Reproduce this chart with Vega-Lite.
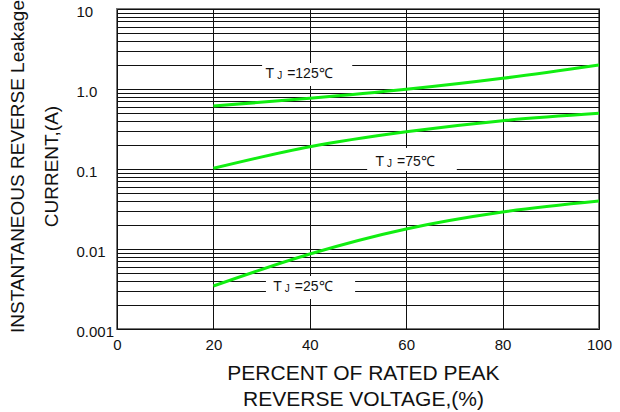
{
  "$schema": "https://vega.github.io/schema/vega-lite/v6.json",
  "width": 482,
  "height": 320,
  "autosize": {"type": "none"},
  "padding": {"left": 117, "top": 9, "right": 21, "bottom": 83},
  "background": "white",
  "config": {
    "font": "Liberation Sans",
    "view": {"stroke": "#777", "strokeWidth": 2}
  },
  "datasets": {
    "curves": [
      {"t": "125", "x": 20, "y": 0.613},
      {"t": "125", "x": 40, "y": 0.764},
      {"t": "125", "x": 60, "y": 0.99},
      {"t": "125", "x": 80, "y": 1.36},
      {"t": "125", "x": 100, "y": 2.0},
      {"t": "75", "x": 20, "y": 0.102},
      {"t": "75", "x": 40, "y": 0.19},
      {"t": "75", "x": 60, "y": 0.292},
      {"t": "75", "x": 80, "y": 0.402},
      {"t": "75", "x": 100, "y": 0.497},
      {"t": "25", "x": 20, "y": 0.00345},
      {"t": "25", "x": 40, "y": 0.00866},
      {"t": "25", "x": 60, "y": 0.0178},
      {"t": "25", "x": 80, "y": 0.029},
      {"t": "25", "x": 100, "y": 0.0398}
    ],
    "boxes": [
      {"x": 30.1, "x2v": 48.8, "y": 2.11, "y2v": 1.09},
      {"x": 51.9, "x2v": 70.5, "y": 0.183, "y2v": 0.0944},
      {"x": 30.9, "x2v": 49.4, "y": 0.0046, "y2v": 0.00237}
    ],
    "labels": [
      {"x": 35.3, "y": 1.54, "txt": "=125℃"},
      {"x": 58.1, "y": 0.1223, "txt": "=75℃"},
      {"x": 36.9, "y": 0.00335, "txt": "=25℃"}
    ]
  },
  "encoding": {
    "x": {
      "field": "x",
      "type": "quantitative",
      "scale": {"domain": [0, 100], "nice": false, "zero": false},
      "axis": {
        "values": [0, 20, 40, 60, 80, 100],
        "grid": true,
        "gridColor": "#111",
        "gridWidth": 1,
        "ticks": false,
        "domain": false,
        "labelFontSize": 15,
        "labelColor": "#111",
        "labelPadding": 8,
        "labelFlush": false,
        "labelOverlap": false,
        "title": ["PERCENT OF RATED PEAK", "REVERSE VOLTAGE,(%)"],
        "titleFontSize": 21,
        "titleFontWeight": "normal",
        "titleColor": "#111",
        "titleLineHeight": 26,
        "titleBaseline": "alphabetic",
        "titleAlign": "center",
        "titleX": 246,
        "titleY": 50
      }
    },
    "y": {
      "field": "y",
      "type": "quantitative",
      "scale": {"type": "log", "domain": [0.001, 10], "nice": false},
      "axis": {
        "values": [0.001, 0.002, 0.003, 0.004, 0.005, 0.006, 0.007, 0.008, 0.009, 0.01, 0.02, 0.03, 0.04, 0.05, 0.06, 0.07, 0.08, 0.09, 0.1, 0.2, 0.3, 0.4, 0.5, 0.6, 0.7, 0.8, 0.9, 1, 2, 3, 4, 5, 6, 7, 8, 9, 10],
        "labelExpr": "datum.value == 10 ? '10' : datum.value == 1 ? '1.0' : datum.value == 0.1 ? '0.1' : datum.value == 0.01 ? '0.01' : datum.value == 0.001 ? '0.001' : ''",
        "grid": true,
        "gridColor": "#111",
        "gridWidth": 1,
        "ticks": false,
        "domain": false,
        "labelFontSize": 15,
        "labelColor": "#111",
        "labelAlign": "left",
        "labelBaseline": "middle",
        "labelPadding": 41,
        "labelOffset": 2,
        "labelOverlap": false,
        "labelBound": false,
        "labelFlush": false,
        "title": ["INSTANTANEOUS REVERSE Leakage", "CURRENT,(A)"],
        "titleFontSize": 19,
        "titleFontWeight": "normal",
        "titleColor": "#111",
        "titleLineHeight": 34,
        "titleAngle": -90,
        "titleAlign": "center",
        "titleBaseline": "alphabetic",
        "titleX": -94,
        "titleY": 157
      }
    }
  },
  "layer": [
    {
      "data": {"name": "curves"},
      "mark": {"type": "line", "color": "#11EE11", "strokeWidth": 3, "interpolate": "monotone", "clip": true},
      "encoding": {"detail": {"field": "t", "type": "nominal"}}
    },
    {
      "data": {"name": "boxes"},
      "mark": {"type": "rect", "fill": "white", "stroke": null},
      "encoding": {
        "x2": {"field": "x2v"},
        "y2": {"field": "y2v"}
      }
    },
    {
      "data": {"name": "labels"},
      "mark": {"type": "text", "text": "T", "align": "right", "baseline": "middle", "dx": -13, "fontSize": 14, "color": "#111"}
    },
    {
      "data": {"name": "labels"},
      "mark": {"type": "text", "text": "J", "align": "left", "baseline": "middle", "dx": -10, "dy": 2, "fontSize": 10, "color": "#111"}
    },
    {
      "data": {"name": "labels"},
      "mark": {"type": "text", "align": "left", "baseline": "middle", "dx": 0, "fontSize": 14, "color": "#111"},
      "encoding": {"text": {"field": "txt", "type": "nominal"}}
    }
  ]
}
